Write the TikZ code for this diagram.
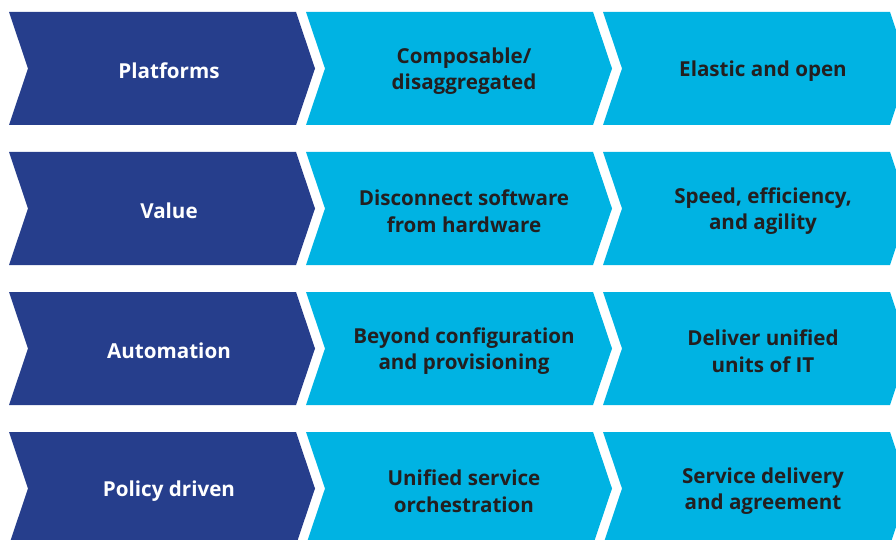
\documentclass[tikz,border=0pt]{standalone}
\usepackage{fontspec}
\setmainfont{Open Sans}
\definecolor{navy}{RGB}{38,62,140}
\definecolor{sky}{RGB}{0,179,227}
\definecolor{ink}{RGB}{35,31,32}
\begin{document}
\begin{tikzpicture}[x=1pt,y=-1pt,
  label1/.style={text=white,font=\bfseries\fontsize{20.6}{26.5}\selectfont,align=center},
  label2/.style={text=ink,font=\bfseries\fontsize{20.6}{26.5}\selectfont,align=center}]
\useasboundingbox (0,0) rectangle (896,540);
\clip (0,0) rectangle (896,540);
\newcommand{\chev}[3]{%
  \fill[#3] (#1,#2) -- ++(287,0) -- ++(19,56.5) -- ++(-19,56.5) -- ++(-287,0) -- ++(19,-56.5) -- cycle;}
\foreach \r in {0,1,2,3}{
  \pgfmathsetmacro{\yy}{12+140*\r}
  \chev{9}{\yy}{navy}
  \chev{306}{\yy}{sky}
  \chev{603}{\yy}{sky}
}
\node[label1] (a1) at (169,71) {Platforms};
\node[label2] (b1) at (464,71) {Composable/\\disaggregated};
\node[label2] (c1) at (763,71) {Elastic and open};
\node[label1] (a2) at (169,211) {Value};
\node[label2] (b2) at (464,211) {Disconnect software\\from hardware};
\node[label2] (c2) at (763,211) {Speed, efficiency,\\and agility};
\node[label1] (a3) at (169,351) {Automation};
\node[label2] (b3) at (464,351) {Beyond configuration\\and provisioning};
\node[label2] (c3) at (763,351) {Deliver unified\\units of IT};
\node[label1] (a4) at (169,491) {Policy driven};
\node[label2] (b4) at (464,491) {Unified service\\orchestration};
\node[label2] (c4) at (763,491) {Service delivery\\and agreement};
\end{tikzpicture}
\end{document}
